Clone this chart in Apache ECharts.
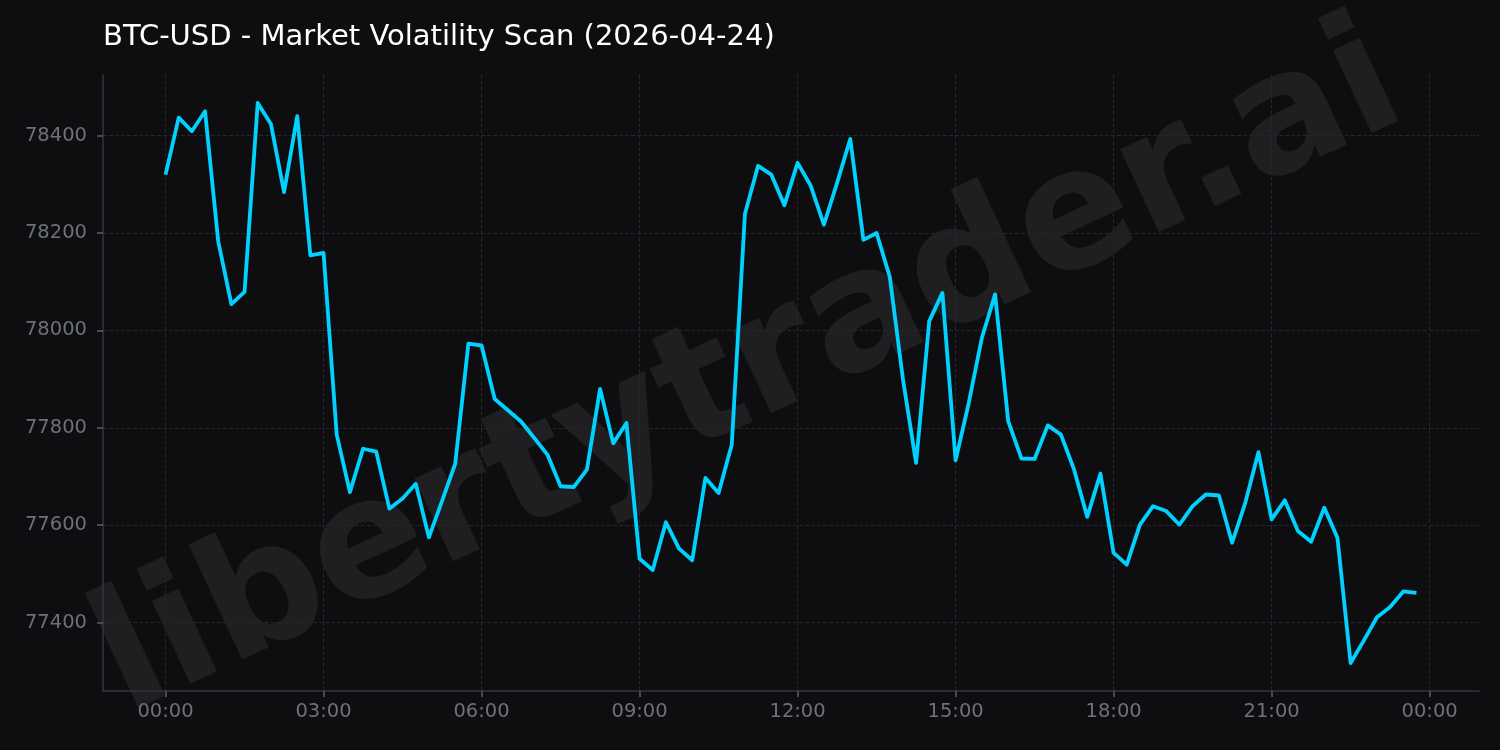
<!DOCTYPE html>
<html>
<head>
<meta charset="utf-8">
<title>BTC-USD volatility scan</title>
<script src="https://cdn.jsdelivr.net/npm/echarts@6/dist/echarts.min.js"></script>
<style>
  html, body { margin: 0; padding: 0; background: #0e0e11; }
  #chart { width: 1500px; height: 750px; }
</style>
</head>
<body>
<div id="chart"></div>
<script>
// 15 minute samples, 00:00 .. 23:45
var stepHours = 0.25;
var prices = [
  78320, 78437, 78409, 78450, 78183, 78054, 78079, 78467,
  78424, 78284, 78440, 78154, 78159, 77786, 77668, 77757,
  77751, 77634, 77655, 77685, 77575, 77650, 77726, 77973,
  77969, 77859, 77836, 77813, 77779, 77745, 77680, 77678,
  77714, 77880, 77768, 77810, 77531, 77508, 77606, 77552,
  77528, 77697, 77666, 77765, 78239, 78338, 78320, 78257,
  78344, 78297, 78217, 78303, 78393, 78186, 78200, 78110,
  77900, 77728, 78019, 78077, 77733, 77851, 77985, 78074,
  77813, 77737, 77736, 77805, 77786, 77714, 77617, 77706,
  77543, 77519, 77601, 77639, 77629, 77601, 77639, 77663,
  77661, 77564, 77646, 77750, 77612, 77651, 77588, 77566,
  77636, 77574, 77317, 77363, 77411, 77432, 77464, 77461
];
var xTickHours = [0, 3, 6, 9, 12, 15, 18, 21, 24];
var xTickLabels = ['00:00', '03:00', '06:00', '09:00', '12:00', '15:00', '18:00', '21:00', '00:00'];
var yTicks = [77400, 77600, 77800, 78000, 78200, 78400];

var seriesData = [];
for (var i = 0; i < prices.length; i++) {
  seriesData.push([i * stepHours, prices[i]]);
}

var font = 'DejaVu Sans';
var labelColor = '#6c717a';

var myChart = echarts.init(document.getElementById('chart'), null, { renderer: 'canvas' });

option = {
  backgroundColor: '#0e0e11',
  animation: false,
  title: {
    text: 'BTC-USD - Market Volatility Scan (2026-04-24)',
    left: 103,
    top: 23,
    padding: 0,
    textStyle: { color: '#ffffff', fontFamily: font, fontSize: 29, fontWeight: 'normal' }
  },
  graphic: [{
    type: 'text',
    x: 750,
    y: 375,
    rotation: 25 * Math.PI / 180,
    z: -10,
    silent: true,
    style: {
      text: 'libertytrader.ai',
      font: 'bold 167px "DejaVu Sans"',
      fill: 'rgba(255,255,255,0.075)',
      align: 'center',
      verticalAlign: 'middle'
    }
  }],
  grid: { left: 103, right: 21, top: 75, bottom: 59, containLabel: false },
  xAxis: {
    type: 'value',
    min: function (v) { return v.min - 0.05 * (v.max - v.min); },
    max: function (v) { return v.max + 0.05 * (v.max - v.min); },
    axisLine: { show: true, onZero: false, lineStyle: { color: '#36363a', width: 1.5 } },
    axisTick: { show: true, length: 6, customValues: xTickHours, lineStyle: { color: '#5a5e66', width: 1.5 } },
    axisLabel: {
      customValues: xTickHours,
      color: labelColor, fontFamily: font, fontSize: 19.5, margin: 11,
      formatter: function (v) { return xTickLabels[xTickHours.indexOf(v)]; }
    },
    splitLine: { show: true, lineStyle: { color: '#26262a', type: [4, 2], width: 1 } }
  },
  yAxis: {
    type: 'value',
    min: function (v) { return v.min - 0.05 * (v.max - v.min); },
    max: function (v) { return v.max + 0.05 * (v.max - v.min); },
    axisLine: { show: true, onZero: false, lineStyle: { color: '#36363a', width: 1.5 } },
    axisTick: { show: true, length: 6, customValues: yTicks, lineStyle: { color: '#5a5e66', width: 1.5 } },
    axisLabel: {
      customValues: yTicks,
      color: labelColor, fontFamily: font, fontSize: 19.5, margin: 16,
      formatter: function (v) { return String(v); }
    },
    splitLine: { show: true, lineStyle: { color: '#26262a', type: [4, 2], width: 1 } }
  },
  series: [{
    name: 'BTC-USD',
    type: 'line',
    data: seriesData,
    showSymbol: false,
    symbol: 'none',
    lineStyle: { color: '#00d1ff', width: 3.8, join: 'round' },
    z: 5
  }]
};

myChart.setOption(option);
</script>
</body>
</html>
